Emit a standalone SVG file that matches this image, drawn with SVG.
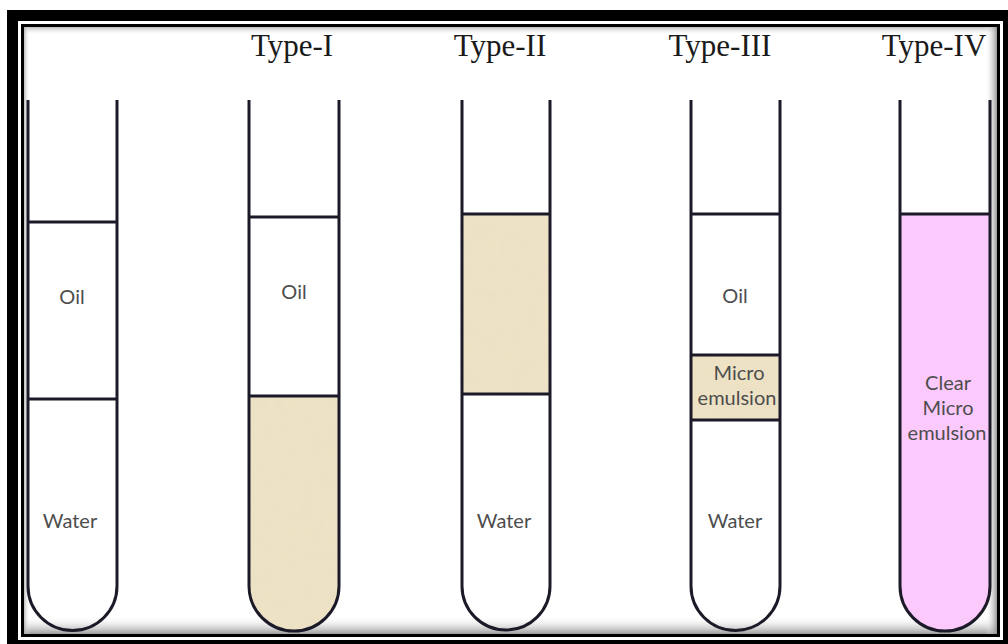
<svg xmlns="http://www.w3.org/2000/svg" width="1008" height="644" viewBox="0 0 1008 644">
  <style>
    .tube { fill: none; stroke: #1c1a28; stroke-width: 3; }
    .level { stroke: #1c1a28; stroke-width: 3; }
    .lbl { font-family: Lato, "Open Sans", sans-serif; font-size: 20px; fill: #4d4d4d; text-anchor: middle; }
    .title { font-family: "Liberation Serif", "Times New Roman", serif; font-size: 31px; fill: #1a1a1a; text-anchor: middle; }
    .beige { fill: #efe3c6; }
    .pink { fill: #fbc9fb; }
  </style>
  <defs>
    <linearGradient id="shB" x1="0" y1="0" x2="0" y2="1">
      <stop offset="0" stop-color="#ffffff" stop-opacity="0"/>
      <stop offset="1" stop-color="#8a8a8a" stop-opacity="0.85"/>
    </linearGradient>
    <linearGradient id="shT" x1="0" y1="1" x2="0" y2="0">
      <stop offset="0" stop-color="#ffffff" stop-opacity="0"/>
      <stop offset="1" stop-color="#a0a0a0" stop-opacity="0.7"/>
    </linearGradient>
    <linearGradient id="shL" x1="1" y1="0" x2="0" y2="0">
      <stop offset="0" stop-color="#ffffff" stop-opacity="0"/>
      <stop offset="1" stop-color="#a0a0a0" stop-opacity="0.7"/>
    </linearGradient>
    <linearGradient id="shR" x1="0" y1="0" x2="1" y2="0">
      <stop offset="0" stop-color="#ffffff" stop-opacity="0"/>
      <stop offset="1" stop-color="#8a8a8a" stop-opacity="0.85"/>
    </linearGradient>
    <filter id="grain" x="0" y="0" width="100%" height="100%">
      <feTurbulence type="fractalNoise" baseFrequency="0.08" numOctaves="2" seed="3" result="n"/>
      <feColorMatrix in="n" type="matrix" values="0 0 0 0 0.75  0 0 0 0 0.68  0 0 0 0 0.52  0 0 0 0.25 0" result="c"/>
      <feComposite in="c" in2="SourceGraphic" operator="in" result="t"/>
      <feMerge><feMergeNode in="SourceGraphic"/><feMergeNode in="t"/></feMerge>
    </filter>
  </defs>

  <!-- frame -->
  <g id="frame">
    <rect x="0" y="0" width="1008" height="644" fill="#ffffff"/>
    <rect x="7" y="10" width="1001" height="634" fill="#000000"/>
    <rect x="18" y="21" width="985" height="619" fill="#ffffff"/>
    <rect x="21" y="24" width="979" height="613" fill="#000000"/>
    <rect x="24" y="27" width="973" height="607" fill="#ffffff"/>
    <rect x="24" y="27" width="973" height="8" fill="url(#shT)"/>
    <rect x="24" y="616" width="973" height="18" fill="url(#shB)"/>
    <rect x="24" y="27" width="6" height="607" fill="url(#shL)"/>
    <rect x="985" y="27" width="12" height="607" fill="url(#shR)"/>
  </g>

  <!-- titles -->
  <g id="titles">
    <text class="title" x="292" y="56">Type-I</text>
    <text class="title" x="500" y="56">Type-II</text>
    <text class="title" x="720" y="56">Type-III</text>
    <text class="title" x="934" y="56">Type-IV</text>
  </g>

  <!-- Tube 0: oil / water -->
  <g id="tube0">
    <path class="tube" d="M28 100 V586 A44.5 44.5 0 0 0 117 586 V100"/>
    <line class="level" x1="28" y1="222" x2="117" y2="222"/>
    <line class="level" x1="28" y1="399" x2="117" y2="399"/>
    <text class="lbl" x="72" y="304">Oil</text>
    <text class="lbl" x="70" y="528">Water</text>
  </g>

  <!-- Tube Type-I -->
  <g id="tube1">
    <path class="beige" filter="url(#grain)" d="M249 396 V586 A45 45 0 0 0 339 586 V396 Z"/>
    <path class="tube" d="M249 100 V586 A45 45 0 0 0 339 586 V100"/>
    <line class="level" x1="249" y1="217" x2="339" y2="217"/>
    <line class="level" x1="249" y1="396" x2="339" y2="396"/>
    <text class="lbl" x="294" y="299">Oil</text>
  </g>

  <!-- Tube Type-II -->
  <g id="tube2">
    <rect class="beige" filter="url(#grain)" x="462" y="214" width="88" height="180"/>
    <path class="tube" d="M462 100 V586 A44 44 0 0 0 550 586 V100"/>
    <line class="level" x1="462" y1="214" x2="550" y2="214"/>
    <line class="level" x1="462" y1="394" x2="550" y2="394"/>
    <text class="lbl" x="504" y="528">Water</text>
  </g>

  <!-- Tube Type-III -->
  <g id="tube3">
    <rect class="beige" filter="url(#grain)" x="691" y="355" width="89" height="65"/>
    <path class="tube" d="M691 100 V586 A44.5 44.5 0 0 0 780 586 V100"/>
    <line class="level" x1="691" y1="214" x2="780" y2="214"/>
    <line class="level" x1="691" y1="355" x2="780" y2="355"/>
    <line class="level" x1="691" y1="420" x2="780" y2="420"/>
    <text class="lbl" x="735" y="303">Oil</text>
    <text class="lbl" x="739" y="380">Micro</text>
    <text class="lbl" x="737" y="405">emulsion</text>
    <text class="lbl" x="735" y="528">Water</text>
  </g>

  <!-- Tube Type-IV -->
  <g id="tube4">
    <path class="pink" d="M900 214 V586 A45 45 0 0 0 990 586 V214 Z"/>
    <path class="tube" d="M900 100 V586 A45 45 0 0 0 990 586 V100"/>
    <line class="level" x1="900" y1="214" x2="990" y2="214"/>
    <text class="lbl" x="948" y="390">Clear</text>
    <text class="lbl" x="948" y="415">Micro</text>
    <text class="lbl" x="947" y="440">emulsion</text>
  </g>
</svg>
